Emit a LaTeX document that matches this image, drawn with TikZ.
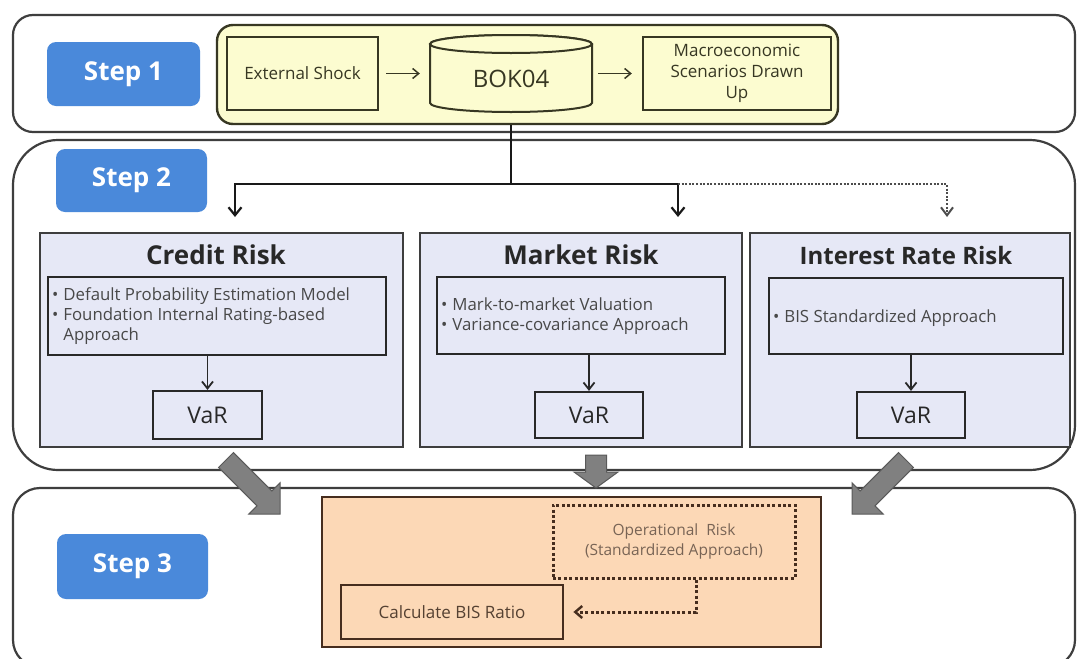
\documentclass[tikz,border=0pt]{standalone}
\usepackage{fontspec}
\setmainfont{Open Sans}
\usetikzlibrary{arrows.meta,calc}

\definecolor{stepblue}{RGB}{74,137,218}
\definecolor{scenfill}{RGB}{252,252,208}
\definecolor{riskfill}{RGB}{230,232,246}
\definecolor{calcfill}{RGB}{252,216,182}
\definecolor{edge}{RGB}{62,62,62}
\definecolor{inkdark}{RGB}{40,40,40}
\definecolor{olivedark}{RGB}{55,55,35}
\definecolor{brownedge}{RGB}{70,45,30}
\definecolor{browntext}{RGB}{85,65,50}
\definecolor{opstext}{RGB}{120,100,85}
\definecolor{blockgray}{RGB}{128,128,128}

\newcommand\fsz[2]{\fontsize{#1}{#2}\selectfont}

% wide grey block arrow from #1 (tail) to #2 (tip), head length #3, name #4
\newcommand\grayarrow[4]{%
  \coordinate (#4-h) at ($(#2)!#3!(#1)$);
  \filldraw[blockarrow]
    ($(#1)!10.5pt!90:(#2)$) -- ($(#4-h)!10.5pt!90:(#2)$) -- ($(#4-h)!22pt!90:(#2)$)
    -- (#2)
    -- ($(#4-h)!22pt!-90:(#2)$) -- ($(#4-h)!10.5pt!-90:(#2)$) -- ($(#1)!10.5pt!-90:(#2)$) -- cycle;
}

\begin{document}
\begin{tikzpicture}[x=1pt,y=-1pt,
  sz/.style 2 args={minimum width=#1, minimum height=#2},
  stepframe/.style={draw=edge, line width=2.2pt, fill=white, inner sep=0},
  stepbtn/.style={fill=stepblue, rounded corners=9pt, text=white, inner sep=0,
    font=\fsz{26}{30}\bfseries},
  scenframe/.style={draw=olivedark, line width=2.4pt, fill=scenfill, inner sep=0},
  scenbox/.style={draw=olivedark, line width=2.4pt, fill=scenfill, inner sep=0,
    align=center, text=olivedark, font=\fsz{17}{21}},
  cyl/.style={draw=olivedark, line width=2pt, fill=scenfill},
  panel/.style={draw=edge, line width=2pt, fill=riskfill, inner sep=0},
  title/.style={font=\fsz{26}{30}\bfseries, text=inkdark, inner sep=0},
  inner/.style={draw=inkdark, line width=2.2pt, fill=riskfill, inner sep=0},
  bullets/.style={align=left, font=\fsz{16.8}{20}, text=inkdark!85, inner sep=0, anchor=west},
  varbox/.style={draw=inkdark, line width=2.2pt, fill=riskfill, inner sep=0,
    font=\fsz{23}{26}, text=inkdark},
  thinarrow/.style={draw=olivedark, line width=1.5pt, shorten <=7pt, shorten >=10pt,
    -{Straight Barb[length=6pt,width=10pt]}},
  mainline/.style={draw=black!90, line width=2.2pt},
  conn/.style={draw=black!90, line width=2.2pt, -{Straight Barb[length=8pt,width=13pt]}},
  dotconn/.style={draw=black!70, line width=2pt, dash pattern=on 2pt off 1.6pt,
    -{Straight Barb[length=8pt,width=12pt]}},
  smallconn/.style={draw=inkdark, line width=1.8pt, -{Straight Barb[length=7pt,width=11pt]}},
  calcframe/.style={draw=brownedge, line width=2.2pt, fill=calcfill, inner sep=0},
  calcbox/.style={draw=brownedge, line width=2.8pt, fill=calcfill, inner sep=0,
    font=\fsz{17}{21}, text=browntext},
  opsbox/.style={draw=brownedge, line width=3pt, dash pattern=on 3pt off 2.4pt,
    fill=calcfill, inner sep=0, align=center, font=\fsz{15.5}{20}, text=opstext},
  opsconn/.style={draw=brownedge, line width=3pt, dash pattern=on 3pt off 2.4pt,
    shorten >=9pt, -{Straight Barb[length=7pt,width=12pt,line width=2.4pt]}},
  blockarrow/.style={fill=blockgray, draw=black!65, line width=1pt, line join=miter}
]
\useasboundingbox (0,0) rectangle (1077,659);
\fill[white] (0,0) rectangle (1077,659);

% ---------- stage frames ----------
\node[stepframe, rounded corners=20pt, sz={1062pt}{117pt}] (s1) at (544,73.5) {};
\node[stepframe, rounded corners=45pt, sz={1062pt}{330pt}] (s2) at (544,305) {};
\node[stepframe, rounded corners=27pt, sz={1062pt}{179pt}] (s3) at (544,577.5) {};

\node[stepbtn, sz={153pt}{64pt}] (b1) at (123.5,74) {Step 1};
\node[stepbtn, sz={151pt}{63pt}] (b2) at (131.5,180.5) {Step 2};
\node[stepbtn, sz={151pt}{65pt}] (b3) at (132.5,566.5) {Step 3};

% ---------- step 1: scenario generation ----------
\node[scenframe, rounded corners=16pt, sz={621pt}{99pt}] (ycont) at (527.5,74.5) {};
\node[scenbox, sz={151pt}{73pt}] (shock) at (302.5,73.5) {External Shock};
\node[scenbox, sz={188pt}{73pt}] (macro) at (737,73.5) {Macroeconomic\\Scenarios Drawn\\Up};

\node[inner sep=0, sz={162pt}{77pt}] (bok) at (511,73.5) {};
\filldraw[cyl] (430,44) -- (430,103)
  arc[start angle=180, end angle=360, x radius=81pt, y radius=9pt]
  -- (592,44)
  arc[start angle=0, end angle=180, x radius=81pt, y radius=9pt] -- cycle;
\draw[cyl] (511,44) ellipse[x radius=81pt, y radius=9pt];
\node[inner sep=0, font=\fsz{24}{28}, text=olivedark] (boklabel) at (511,79) {BOK04};

\draw[thinarrow] (shock) -- (bok);
\draw[thinarrow, shorten <=6pt] (bok) -- (macro);

% ---------- step 2: risk modules ----------
\node[panel, sz={363pt}{214pt}] (credit) at (221.5,340) {};
\node[panel, sz={322pt}{214pt}] (market) at (581,340) {};
\node[panel, sz={320pt}{214pt}] (interest) at (910,340) {};

\node[title] (ct) at (216,255) {Credit Risk};
\node[title] (mt) at (581,255) {Market Risk};
\node[title, font=\fsz{24}{28}\bfseries] (it) at (906,255) {Interest Rate Risk};

\node[inner, sz={338pt}{78pt}] (ci) at (217,316) {};
\node[inner, sz={288pt}{77pt}] (mi) at (581,315.5) {};
\node[inner, sz={294pt}{76pt}] (ii) at (916,316) {};

\node[bullets] (ctext) at ($(ci.west)+(5,0)$)
  {•\hspace{5pt}Default Probability Estimation Model\\
   •\hspace{5pt}Foundation Internal Rating-based\\
   \phantom{•}\hspace{5pt}Approach};
\node[bullets] (mtext) at ($(mi.west)+(5,1)$)
  {•\hspace{5pt}Mark-to-market Valuation\\
   •\hspace{5pt}Variance-covariance Approach};
\node[bullets] (itext) at ($(ii.west)+(5,2)$)
  {•\hspace{5pt}BIS Standardized Approach};

\node[varbox, sz={109pt}{48pt}] (cv) at (207.5,415) {VaR};
\node[varbox, sz={108pt}{46pt}] (mv) at (589,415) {VaR};
\node[varbox, sz={108pt}{46pt}] (iv) at (911,415) {VaR};

\draw[smallconn] (ci.south -| cv.north) -- (cv.north);
\draw[smallconn] (mi.south -| mv.north) -- (mv.north);
\draw[smallconn] (ii.south -| iv.north) -- (iv.north);

% distribution of the scenarios
\coordinate (jn) at (511,184);
\coordinate (tc) at (235,217);
\coordinate (tm) at (678,217);
\coordinate (ti) at (947,217);
\draw[mainline] (ycont.south -| bok.center) -- (jn);
\draw[conn] (jn) -| (tc);
\draw[conn] (jn) -| (tm);
\draw[dotconn] (jn -| tm) -| (ti);

% ---------- step 3: capital ratio ----------
\node[calcframe, sz={499pt}{150pt}] (ob) at (571.5,572) {};
\node[opsbox, sz={242pt}{73pt}] (ops) at (674,541.5) {Operational\ \ Risk\\(Standardized Approach)};
\node[calcbox, sz={222pt}{54pt}] (calc) at (452,612) {Calculate BIS Ratio};
\draw[opsconn] ($(ops.south)+(22,0)$) |- (calc.east);

% ---------- aggregation arrows ----------
\coordinate (la-t) at (226,460); \coordinate (la-p) at (280,514);
\coordinate (ma-t) at (596,455); \coordinate (ma-p) at (596,488);
\coordinate (ra-t) at (906,460); \coordinate (ra-p) at (852,514);
\grayarrow{la-t}{la-p}{22pt}{la}
\grayarrow{ma-t}{ma-p}{16pt}{ma}
\grayarrow{ra-t}{ra-p}{22pt}{ra}
\end{tikzpicture}
\end{document}
